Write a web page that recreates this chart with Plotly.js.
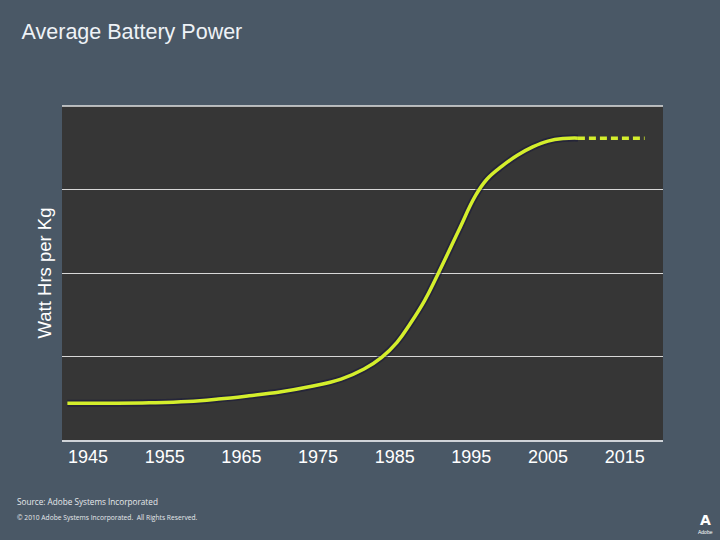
<!DOCTYPE html>
<html>
<head>
<meta charset="utf-8">
<script src="https://cdn.plot.ly/plotly-3.0.1.min.js"></script>
<style>html,body{margin:0;padding:0;background:#4a5866;}#chart{width:720px;height:540px;}</style>
</head>
<body>
<div id="chart"></div>
<script>
const years = [1942.3, 1948, 1953, 1958, 1962, 1966, 1970, 1974, 1978, 1981, 1983.3, 1985.3, 1987.0, 1988.9, 1990.6, 1993.3, 1995.5, 1997.0, 1999, 2001, 2003, 2005, 2007, 2008.9];
const power = [0.44, 0.44, 0.445, 0.46, 0.49, 0.53, 0.575, 0.64, 0.73, 0.85, 0.99, 1.17, 1.39, 1.67, 1.98, 2.5, 2.92, 3.12, 3.28, 3.41, 3.51, 3.58, 3.61, 3.615];
const projYears = [2008.9, 2017.6];
const projPower = [3.615, 3.615];
const tickYears = [1945, 1955, 1965, 1975, 1985, 1995, 2005, 2015];
const tickLabels = ["1945", "1955", "1965", "1975", "1985", "1995", "2005", "2015"];

const lineColor = "#d4ee2c";
const traces = [
  {x: years, y: power, mode: "lines", line: {color: "rgba(20,20,60,0.5)", width: 7, shape: "spline", smoothing: 1.2}, hoverinfo: "skip"},
  {x: years, y: power, mode: "lines", line: {color: lineColor, width: 3.5, shape: "spline", smoothing: 1.2}},
  {x: projYears, y: projPower, mode: "lines", line: {color: lineColor, width: 3.5, dash: "7px,4px"}}
];

const layout = {
  width: 720, height: 540,
  paper_bgcolor: "#4a5866",
  plot_bgcolor: "#363636",
  showlegend: false,
  margin: {l: 62, r: 57, t: 106, b: 100},
  font: {family: "Liberation Sans, Arial, sans-serif", color: "#ffffff"},
  title: {text: "Average Battery Power", x: 0.03, xanchor: "left", y: 0.942, yanchor: "middle", font: {size: 21.5, color: "#eef2f6"}},
  xaxis: {
    range: [1941.6, 2020], tickvals: tickYears, ticktext: tickLabels,
    showgrid: false, zeroline: false, showline: true, linecolor: "#cfd3d8", linewidth: 1.5,
    ticks: "", tickfont: {size: 18, color: "#ffffff"}, fixedrange: true
  },
  yaxis: {
    range: [0, 4], dtick: 1, showticklabels: false, showgrid: true, gridcolor: "#d8d8d8", gridwidth: 1,
    zeroline: false, showline: false, ticks: "",
    title: {text: "Watt Hrs per Kg", font: {size: 18.5, color: "#ffffff"}, standoff: 4}, fixedrange: true
  },
  annotations: [
    {text: "Source: Adobe Systems Incorporated", xref: "paper", yref: "paper", x: -0.078, y: -0.185, xanchor: "left", yanchor: "middle", showarrow: false, font: {size: 8.2, color: "#e6e9ec", family: "Open Sans, sans-serif"}},
    {text: "© 2010 Adobe Systems Incorporated.  All Rights Reserved.", xref: "paper", yref: "paper", x: -0.078, y: -0.232, xanchor: "left", yanchor: "middle", showarrow: false, font: {size: 6.7, color: "#e6e9ec", family: "Open Sans, sans-serif"}},
    {text: "<b>A</b>", xref: "paper", yref: "paper", x: 1.07, y: -0.24, xanchor: "center", yanchor: "middle", showarrow: false, font: {size: 14, color: "#ffffff", family: "DejaVu Sans, sans-serif"}},
    {text: "Adobe", xref: "paper", yref: "paper", x: 1.07, y: -0.275, xanchor: "center", yanchor: "middle", showarrow: false, font: {size: 5, color: "#ffffff"}}
  ],
  shapes: [
    {type: "line", xref: "paper", yref: "paper", x0: 0, x1: 1, y0: 1, y1: 1, line: {color: "#e0e0e0", width: 1.5}}
  ]
};

Plotly.newPlot("chart", traces, layout, {displayModeBar: false, staticPlot: true});
</script>
</body>
</html>
